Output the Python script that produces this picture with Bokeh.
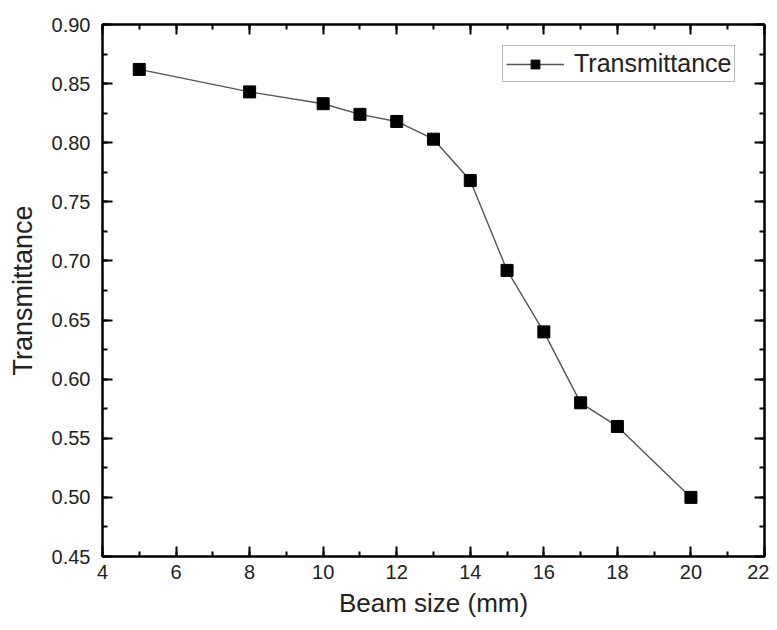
from bokeh.plotting import figure
from bokeh.models import (LinearAxis, SingleIntervalTicker, NumeralTickFormatter,
                          Range1d, Legend, LegendItem)
from bokeh.embed import file_html
from bokeh.resources import INLINE

beam_size = [5, 8, 10, 11, 12, 13, 14, 15, 16, 17, 18, 20]
transmittance = [0.862, 0.843, 0.833, 0.824, 0.818, 0.803, 0.768, 0.692, 0.640, 0.580, 0.560, 0.500]
series_name = "Transmittance"
x_label = "Beam size (mm)"
y_label = "Transmittance"

FONT = "Liberation Sans"

p = figure(width=769, height=622, output_backend="svg", toolbar_location=None,
           x_range=Range1d(4, 22), y_range=Range1d(0.45, 0.90),
           x_axis_location=None, y_axis_location=None,
           min_border_left=102, min_border_right=5, min_border_top=24, min_border_bottom=66)
p.grid.visible = False
p.outline_line_color = "black"
p.outline_line_width = 2
p.background_fill_color = "white"
p.border_fill_color = "white"

def make_axis(kind, show_labels, label=None):
    if kind == "x":
        t = SingleIntervalTicker(interval=2, num_minor_ticks=2)
    else:
        t = SingleIntervalTicker(interval=0.05, num_minor_ticks=2)
    ax = LinearAxis(ticker=t)
    ax.axis_line_color = "black"
    ax.axis_line_width = 2
    ax.major_tick_in = 10
    ax.major_tick_out = 0
    ax.minor_tick_in = 5
    ax.minor_tick_out = 0
    ax.major_tick_line_width = 2
    ax.minor_tick_line_width = 2
    ax.major_tick_line_color = "black"
    ax.minor_tick_line_color = "black"
    ax.major_label_text_font = FONT
    ax.major_label_text_font_size = "20px"
    ax.major_label_text_color = "#222222"
    if kind == "y":
        ax.formatter = NumeralTickFormatter(format="0.00")
    if not show_labels:
        ax.major_label_text_alpha = 0
        ax.major_label_text_font_size = "1px"
        ax.major_label_standoff = 0
    else:
        ax.major_label_standoff = 12 if kind == "y" else 8
    if label:
        ax.axis_label = label
        ax.axis_label_text_font = FONT
        ax.axis_label_text_font_size = "26px" if kind == "x" else "27px"
        ax.axis_label_text_font_style = "normal"
        ax.axis_label_text_color = "#222222"
        ax.axis_label_standoff = 6 if kind == "x" else 11
    return ax

p.add_layout(make_axis("x", True, x_label), "below")
p.add_layout(make_axis("y", True, y_label), "left")
p.add_layout(make_axis("x", False), "above")
p.add_layout(make_axis("y", False), "right")

ln = p.line(beam_size, transmittance, line_color="#555555", line_width=1.4)
sq = p.scatter(beam_size, transmittance, marker="square", size=12,
               fill_color="black", line_color="black")

legend = Legend(items=[LegendItem(label=series_name, renderers=[ln, sq])],
                location=(400, 474))
legend.label_text_font = FONT
legend.label_text_font_size = "25px"
legend.label_text_color = "#222222"
legend.border_line_color = "#777777"
legend.border_line_width = 1
legend.margin = 0
legend.padding = 3
legend.spacing = 0
legend.glyph_width = 58
legend.glyph_height = 22
legend.label_standoff = 10
legend.background_fill_alpha = 1
p.add_layout(legend)

html = file_html(p, INLINE)
open("out.html", "w").write(html)
